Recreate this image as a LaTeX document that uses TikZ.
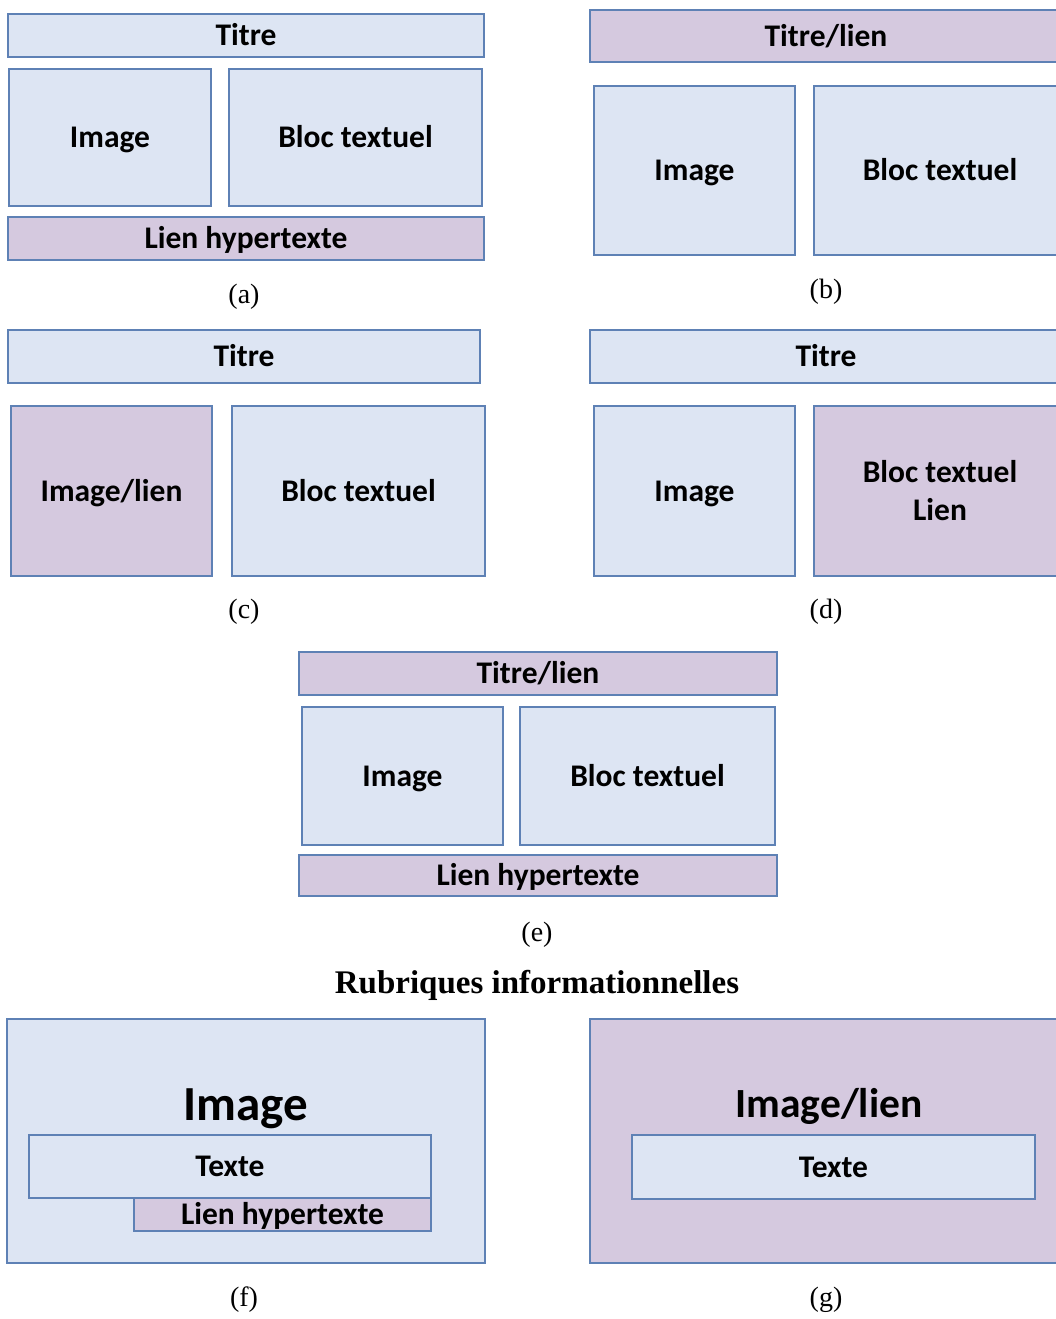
\documentclass[tikz,border=0pt]{standalone}
\usepackage{fontspec}
\setmainfont{Liberation Serif}
\setsansfont{Carlito}
\definecolor{boxblue}{RGB}{221,229,243}
\definecolor{boxlink}{RGB}{213,201,223}
\definecolor{boxline}{RGB}{94,129,181}
\tikzset{
  zone/.style={draw=boxline, line width=2.6pt, fill=boxblue, inner sep=0pt,
    font=\fontsize{31.5}{38}\selectfont\sffamily\bfseries, align=center,
    text height=20.3pt, text depth=0pt},
  lienzone/.style={zone, fill=boxlink},
  bigtext/.style={font=\fontsize{#1}{#1}\selectfont\sffamily\bfseries,
    inner sep=0pt, text height=0.644*#1pt, text depth=0pt},
  caption/.style={font=\fontsize{28}{32}\selectfont}
}
\begin{document}
\begin{tikzpicture}[x=1pt,y=-1pt]
\useasboundingbox (0,0) rectangle (1056,1319);

% (a)
\node[zone, minimum width=476pt, minimum height=43pt] (aTitre) at (246,35.5) {Titre};
\node[zone, minimum width=202pt, minimum height=137pt] (aImage) at (110,137.5) {Image};
\node[zone, minimum width=253pt, minimum height=137pt] (aBloc) at (355.5,137.5) {Bloc textuel};
\node[lienzone, minimum width=476pt, minimum height=43pt] (aLien) at (246,238.5) {Lien hypertexte};
\node[caption] (aCap) at (244,297) {(a)};

% (b)
\node[lienzone, minimum width=472pt, minimum height=52pt] (bTitre) at (826,36) {Titre/lien};
\node[zone, minimum width=201pt, minimum height=169pt] (bImage) at (694.5,170.5) {Image};
\node[zone, minimum width=252pt, minimum height=169pt] (bBloc) at (940,170.5) {Bloc textuel};
\node[caption] (bCap) at (826,292) {(b)};

% (c)
\node[zone, minimum width=472pt, minimum height=53pt] (cTitre) at (244,356.5) {Titre};
\node[lienzone, minimum width=201pt, minimum height=170pt] (cImage) at (111.5,491) {Image/lien};
\node[zone, minimum width=253pt, minimum height=170pt] (cBloc) at (358.5,491) {Bloc textuel};
\node[caption] (cCap) at (244,612) {(c)};

% (d)
\node[zone, minimum width=472pt, minimum height=53pt] (dTitre) at (826,356.5) {Titre};
\node[zone, minimum width=201pt, minimum height=170pt] (dImage) at (694.5,491) {Image};
\node[lienzone, minimum width=252pt, minimum height=170pt, text height=58.3pt] (dBloc) at (940,491) {Bloc textuel\\Lien};
\node[caption] (dCap) at (826,612) {(d)};

% (e)
\node[lienzone, minimum width=478pt, minimum height=43pt] (eTitre) at (538,673.5) {Titre/lien};
\node[zone, minimum width=201pt, minimum height=138pt] (eImage) at (402.5,776) {Image};
\node[zone, minimum width=255pt, minimum height=138pt] (eBloc) at (647.5,776) {Bloc textuel};
\node[lienzone, minimum width=478pt, minimum height=41pt] (eLien) at (538,875.5) {Lien hypertexte};
\node[caption] (eCap) at (537,935) {(e)};

\node[font=\fontsize{33}{37}\selectfont\bfseries] (rubriques) at (537,985) {Rubriques informationnelles};

% (f)
\node[zone, minimum width=478pt, minimum height=244pt] (fImage) at (246,1141) {};
\node[bigtext=49] (fImageTxt) at (246,1105) {Image};
\node[zone, minimum width=402pt, minimum height=63pt] (fTexte) at (230,1166.5) {Texte};
\node[lienzone, minimum width=297pt, minimum height=33pt] (fLien) at (282.5,1214.5) {Lien hypertexte};
\node[caption] (fCap) at (244,1300) {(f)};

% (g)
\node[lienzone, minimum width=472pt, minimum height=244pt] (gImage) at (826,1141) {};
\node[bigtext=41.5] (gImageTxt) at (829,1104) {Image/lien};
\node[zone, minimum width=403pt, minimum height=64pt] (gTexte) at (833.5,1167) {Texte};
\node[caption] (gCap) at (826,1300) {(g)};
\end{tikzpicture}
\end{document}
